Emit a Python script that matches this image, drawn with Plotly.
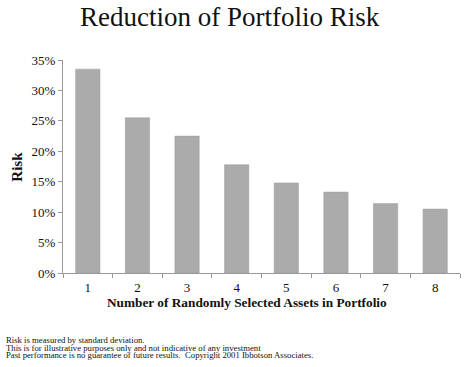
import plotly.graph_objects as go

categories = ["1", "2", "3", "4", "5", "6", "7", "8"]
risk = [0.335, 0.255, 0.225, 0.178, 0.148, 0.133, 0.114, 0.105]
y_ticks = [0, 0.05, 0.10, 0.15, 0.20, 0.25, 0.30, 0.35]
y_tick_labels = ["0%", "5%", "10%", "15%", "20%", "25%", "30%", "35%"]
footnotes = [
    "Risk is measured by standard deviation.",
    "This is for illustrative purposes only and not indicative of any investment",
    "Past performance is no guarantee of future results.  Copyright 2001 Ibbotson Associates.",
]

FONT = "Liberation Serif, Times New Roman, serif"

# plot area in page coords: x 63..460, y 60..272.7
PL, PR, PT, PB = 63, 460, 60, 272.7
PW, PH = PR - PL, PB - PT
W, H = 466, 367

fig = go.Figure(go.Bar(
    x=categories, y=risk,
    marker=dict(color="#ababab", line=dict(color="#9d9d9d", width=0.5)),
    width=0.49,
))

fig.update_layout(
    width=W, height=H,
    margin=dict(l=PL, r=W - PR, t=PT, b=H - PB),
    paper_bgcolor="white", plot_bgcolor="white",
    font=dict(family=FONT, color="#111111", size=13),
    showlegend=False,
)
fig.update_xaxes(
    type="category", tickson="boundaries", ticks="outside", ticklen=4,
    tickcolor="#999999", showline=True, linecolor="#999999", linewidth=1,
    showgrid=False, tickfont=dict(size=13, family=FONT), ticklabelstandoff=2,
)
fig.update_yaxes(
    range=[0, 0.35], tickvals=y_ticks, ticktext=y_tick_labels,
    ticks="outside", ticklen=4, tickcolor="#999999",
    showline=True, linecolor="#999999", linewidth=1, showgrid=False,
    zeroline=False, tickfont=dict(size=13, family=FONT),
)

def px(x):
    return (x - PL) / PW

def py(y):
    return (PB - y) / PH

fig.add_annotation(text="Reduction of Portfolio Risk", xref="paper", yref="paper",
                   x=px(230), y=py(17), showarrow=False, yanchor="middle",
                   font=dict(size=27, family=FONT, color="#111111"))
fig.add_annotation(text="<b>Number of Randomly Selected Assets in Portfolio</b>",
                   xref="paper", yref="paper", x=px(247), y=py(302),
                   showarrow=False, yanchor="middle",
                   font=dict(size=13.3, family=FONT, color="#111111"))
fig.add_annotation(text="<b>Risk</b>", xref="paper", yref="paper",
                   x=px(17.5), y=py(167), textangle=-90,
                   showarrow=False, xanchor="center", yanchor="middle",
                   font=dict(size=15, family=FONT, color="#111111"))
for i, line in enumerate(footnotes):
    fig.add_annotation(text=line, xref="paper", yref="paper",
                       x=px(4), y=py(340 + 7.4 * i),
                       xanchor="left", yanchor="middle", showarrow=False,
                       font=dict(size=8.7, family=FONT, color="#111111"))

fig.write_html("out.html", config={"displayModeBar": False},
               post_script="document.body.style.margin='0';document.body.style.overflow='hidden';")
